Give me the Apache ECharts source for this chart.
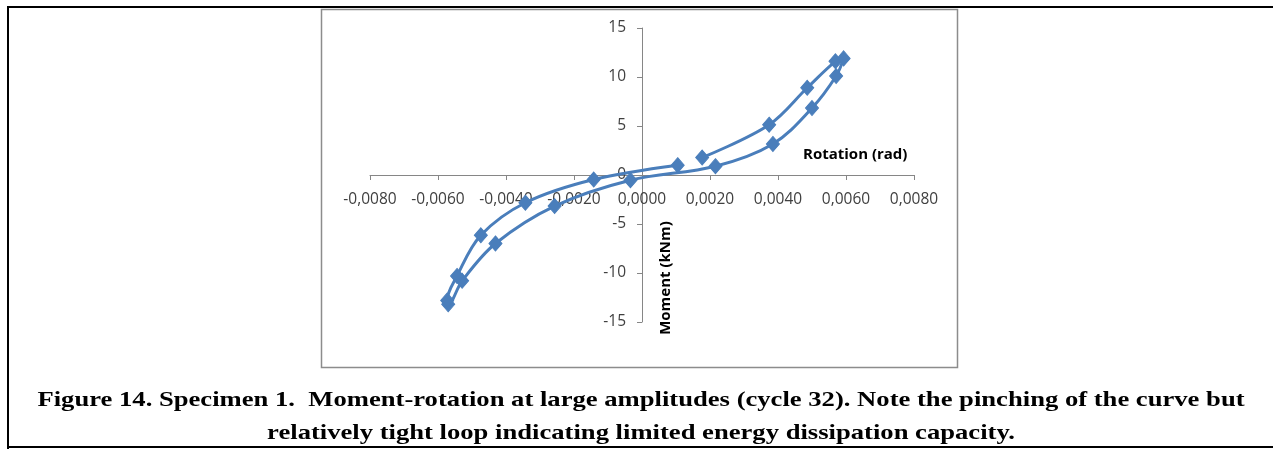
<!DOCTYPE html>
<html>
<head>
<meta charset="utf-8">
<script src="https://cdn.jsdelivr.net/npm/echarts@6/dist/echarts.min.js"></script>
<style>
  html, body { margin: 0; padding: 0; background: #fff; }
  #chart { width: 1273px; height: 449px; }
</style>
</head>
<body>
<div id="chart"></div>
<script>
// Hysteresis loop, cycle 32: rotation (rad) vs moment (kNm), in loading order
const rotation = [0.00177, 0.00374, 0.00486, 0.00569, 0.00593, 0.00571, 0.00500, 0.00385, 0.00216,
  -0.00034, -0.00257, -0.00431, -0.00529, -0.00570, -0.00573, -0.00544, -0.00474, -0.00343, -0.00142, 0.00105];
const moment = [1.78, 5.13, 8.9, 11.6, 11.9, 10.1, 6.83, 3.17, 0.9,
  -0.53, -3.17, -6.99, -10.8, -13.2, -12.8, -10.3, -6.15, -2.83, -0.46, 1.0];

// Axis tick labels
const xTickValues = [-0.008, -0.006, -0.004, -0.002, 0, 0.002, 0.004, 0.006, 0.008];
const xTickLabels = ['-0,0080', '-0,0060', '-0,0040', '-0,0020', '0,0000', '0,0020', '0,0040', '0,0060', '0,0080'];
const yTickLabels = ['-15', '-10', '-5', '0', '5', '10', '15'];

const captionLines = [
  'Figure 14. Specimen 1.  Moment-rotation at large amplitudes (cycle 32). Note the pinching of the curve but',
  'relatively tight loop indicating limited energy dissipation capacity.'
];

const points = rotation.map((r, i) => [r, moment[i]]);

function xLabel(v) {
  let best = 0;
  xTickValues.forEach((t, i) => { if (Math.abs(t - v) < Math.abs(xTickValues[best] - v)) best = i; });
  return xTickLabels[best];
}
function yLabel(v) {
  const idx = Math.round((v + 15) / 5);
  return yTickLabels[idx] !== undefined ? yTickLabels[idx] : String(v);
}

const blue = '#4a7ebb';
const axisGray = '#868686';
const labelFont = { fontFamily: 'Open Sans', fontSize: 15.5, color: '#404040' };

// Plot rectangle; both axes cross at the origin in the middle of it
const plot = { left: 370, top: 28, width: 544, height: 294 };

const chart = echarts.init(document.getElementById('chart'), null, { renderer: 'canvas' });
chart.setOption({
  backgroundColor: '#fff',
  animation: false,
  grid: {
    left: plot.left, top: plot.top, width: plot.width, height: plot.height, containLabel: false
  },
  xAxis: {
    type: 'value', min: -0.008, max: 0.008, interval: 0.002,
    position: 'bottom', offset: -plot.height / 2,
    axisLine: { onZero: false, lineStyle: { color: axisGray, width: 1 } },
    axisTick: { show: true, inside: false, length: 5, lineStyle: { color: axisGray } },
    axisLabel: Object.assign({ formatter: xLabel, margin: 17 }, labelFont),
    splitLine: { show: false }
  },
  yAxis: {
    type: 'value', min: -15, max: 15, interval: 5,
    position: 'left', offset: -plot.width / 2,
    axisLine: { onZero: false, lineStyle: { color: axisGray, width: 1 } },
    axisTick: { show: true, inside: false, length: 5, lineStyle: { color: axisGray } },
    axisLabel: Object.assign({ formatter: yLabel, margin: 16 }, labelFont),
    splitLine: { show: false }
  },
  series: [{
    type: 'line',
    data: points,
    smooth: 0.35,
    symbol: 'diamond',
    symbolSize: [13, 15],
    showSymbol: true,
    lineStyle: { color: blue, width: 3 },
    itemStyle: { color: blue, borderColor: blue, borderWidth: 1 },
    z: 3
  }],
  graphic: [
    // outer page frame (top, left, bottom)
    { type: 'line', shape: { x1: 7, y1: 7, x2: 1273, y2: 7 }, style: { stroke: '#000', lineWidth: 2 }, z: 10 },
    { type: 'line', shape: { x1: 8, y1: 6, x2: 8, y2: 449 }, style: { stroke: '#000', lineWidth: 2 }, z: 10 },
    { type: 'line', shape: { x1: 7, y1: 447, x2: 1273, y2: 447 }, style: { stroke: '#000', lineWidth: 2 }, z: 10 },
    // chart area border
    { type: 'rect', shape: { x: 321.5, y: 9.5, width: 636, height: 358 },
      style: { fill: 'none', stroke: '#8c8c8c', lineWidth: 1.5 }, z: 0 },
    // axis titles
    { type: 'text', x: 803, y: 155,
      style: { text: 'Rotation (rad)', font: 'bold 15px "Open Sans"', fill: '#000',
        align: 'left', verticalAlign: 'middle' }, z: 10 },
    { type: 'text', x: 666, y: 278, rotation: Math.PI / 2,
      style: { text: 'Moment (kNm)', font: 'bold 15px "Open Sans"', fill: '#000',
        align: 'center', verticalAlign: 'middle' }, z: 10 },
    // caption
    { type: 'text', x: 641, y: 400, scaleX: 1.21,
      style: { text: captionLines[0], font: 'bold 22px "Liberation Serif"', fill: '#000',
        align: 'center', verticalAlign: 'middle' }, z: 10 },
    { type: 'text', x: 641, y: 433, scaleX: 1.21,
      style: { text: captionLines[1], font: 'bold 22px "Liberation Serif"', fill: '#000',
        align: 'center', verticalAlign: 'middle' }, z: 10 }
  ]
});
</script>
</body>
</html>
